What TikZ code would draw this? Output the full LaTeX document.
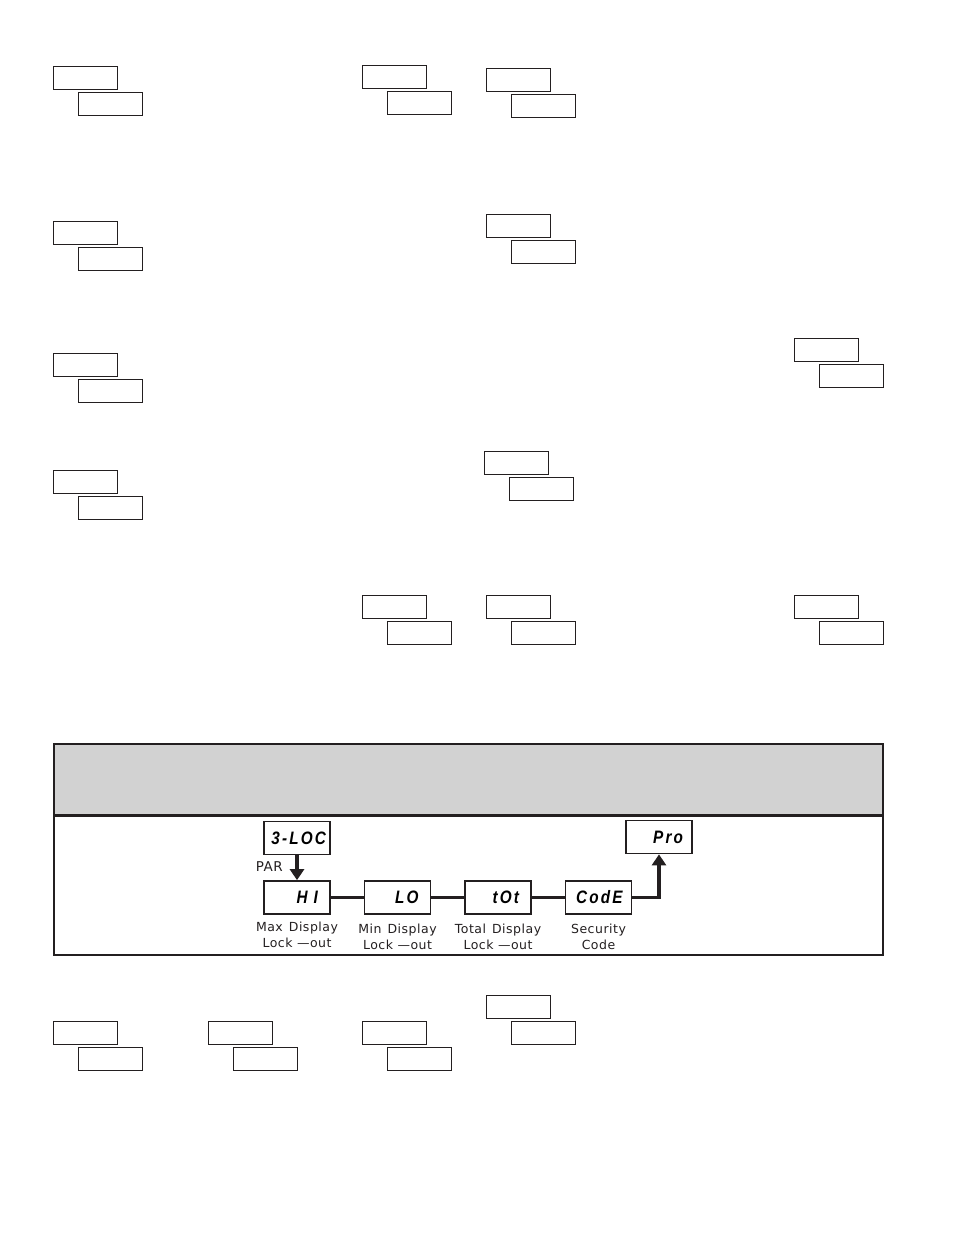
\documentclass[tikz,border=0pt]{standalone}
\usepackage{fontspec}
\setmainfont{Liberation Sans}
\newfontfamily\lblfont[LetterSpace=4]{DejaVu Sans}
\newfontfamily\segfont[FakeStretch=0.85,LetterSpace=12]{Liberation Sans}
\usetikzlibrary{arrows.meta}
\definecolor{ink}{HTML}{231F20}
\definecolor{band}{HTML}{D2D2D2}
\newcommand\boxpair[3]{%
  \node[pbox] (#1a) at (#2+32.5,#3+12) {};
  \node[pbox] (#1b) at (#2+57.5,#3+38) {};}
\begin{document}
\begin{tikzpicture}[x=1pt,y=-1pt,
  pbox/.style={draw=ink,line width=1.5pt,minimum width=64pt,minimum height=23pt,inner sep=0pt},
  fbox/.style={draw=ink,line width=1.7pt,minimum width=66pt,minimum height=33pt,inner sep=0pt,
    text width=42pt,align=right,font=\segfont\bfseries\itshape\fontsize{18}{18}\selectfont},
  lbl/.style={font=\lblfont\fontsize{12.5}{16}\selectfont,align=center,inner sep=0pt,text=ink},
  link/.style={draw=ink,line width=2.5pt},
  bigarrow/.style={draw=ink,line width=3.8pt,-{Triangle[width=14pt,length=11pt]}}
]
\useasboundingbox (0,0) rectangle (954,1235);

% empty box pairs
\boxpair{p1}{53}{66}
\boxpair{p2}{362}{65}
\boxpair{p3}{486}{68}
\boxpair{p4}{53}{221}
\boxpair{p5}{486}{214}
\boxpair{p6}{53}{353}
\boxpair{p7}{794}{338}
\boxpair{p8}{53}{470}
\boxpair{p9}{484}{451}
\boxpair{p10}{362}{595}
\boxpair{p11}{486}{595}
\boxpair{p12}{794}{595}
\boxpair{p13}{53}{1021}
\boxpair{p14}{208}{1021}
\boxpair{p15}{362}{1021}
\boxpair{p16}{486}{995}

% banner frame
\fill[band] (54,744) rectangle (883,815);
\draw[ink,line width=2pt] (54,955) -- (54,744) -- (883,744) -- (883,955);
\draw[ink,line width=1.5pt] (53,955) -- (884,955);
\draw[ink,line width=3pt] (54,815) -- (883,815);

% flow boxes
\node[fbox,text width=58pt] (loc) at (297,838) {\mbox{3-LOC}};
\node[fbox] (hi) at (297,897.5) {H\,\,I};
\node[fbox] (lo) at (397.5,897.5) {LO};
\node[fbox] (tot) at (498,897.5) {tOt};
\node[fbox,text width=48pt] (code) at (598.5,897.5) {CodE};
\node[fbox,text width=48pt] (pro) at (659,837) {Pro};

% labels
\node[lbl,anchor=east,font=\lblfont\fontsize{13.5}{16}\selectfont] (par) at (283,867) {PAR};
\node[lbl] (hil) at (297,935) {Max\hspace{6pt}Display\\Lock —out};
\node[lbl] (lol) at (397.5,937) {Min\hspace{6pt}Display\\Lock —out};
\node[lbl] (totl) at (498,937) {Total\hspace{6pt}Display\\Lock —out};
\node[lbl] (codel) at (598.5,937) {Security\\Code};

% connectors
\draw[bigarrow] (loc.south) -- (hi.north);
\draw[link] (hi) -- (lo);
\draw[link] (lo) -- (tot);
\draw[link] (tot) -- (code);
\draw[bigarrow] (code.east) -| (pro.south);
\end{tikzpicture}
\end{document}
